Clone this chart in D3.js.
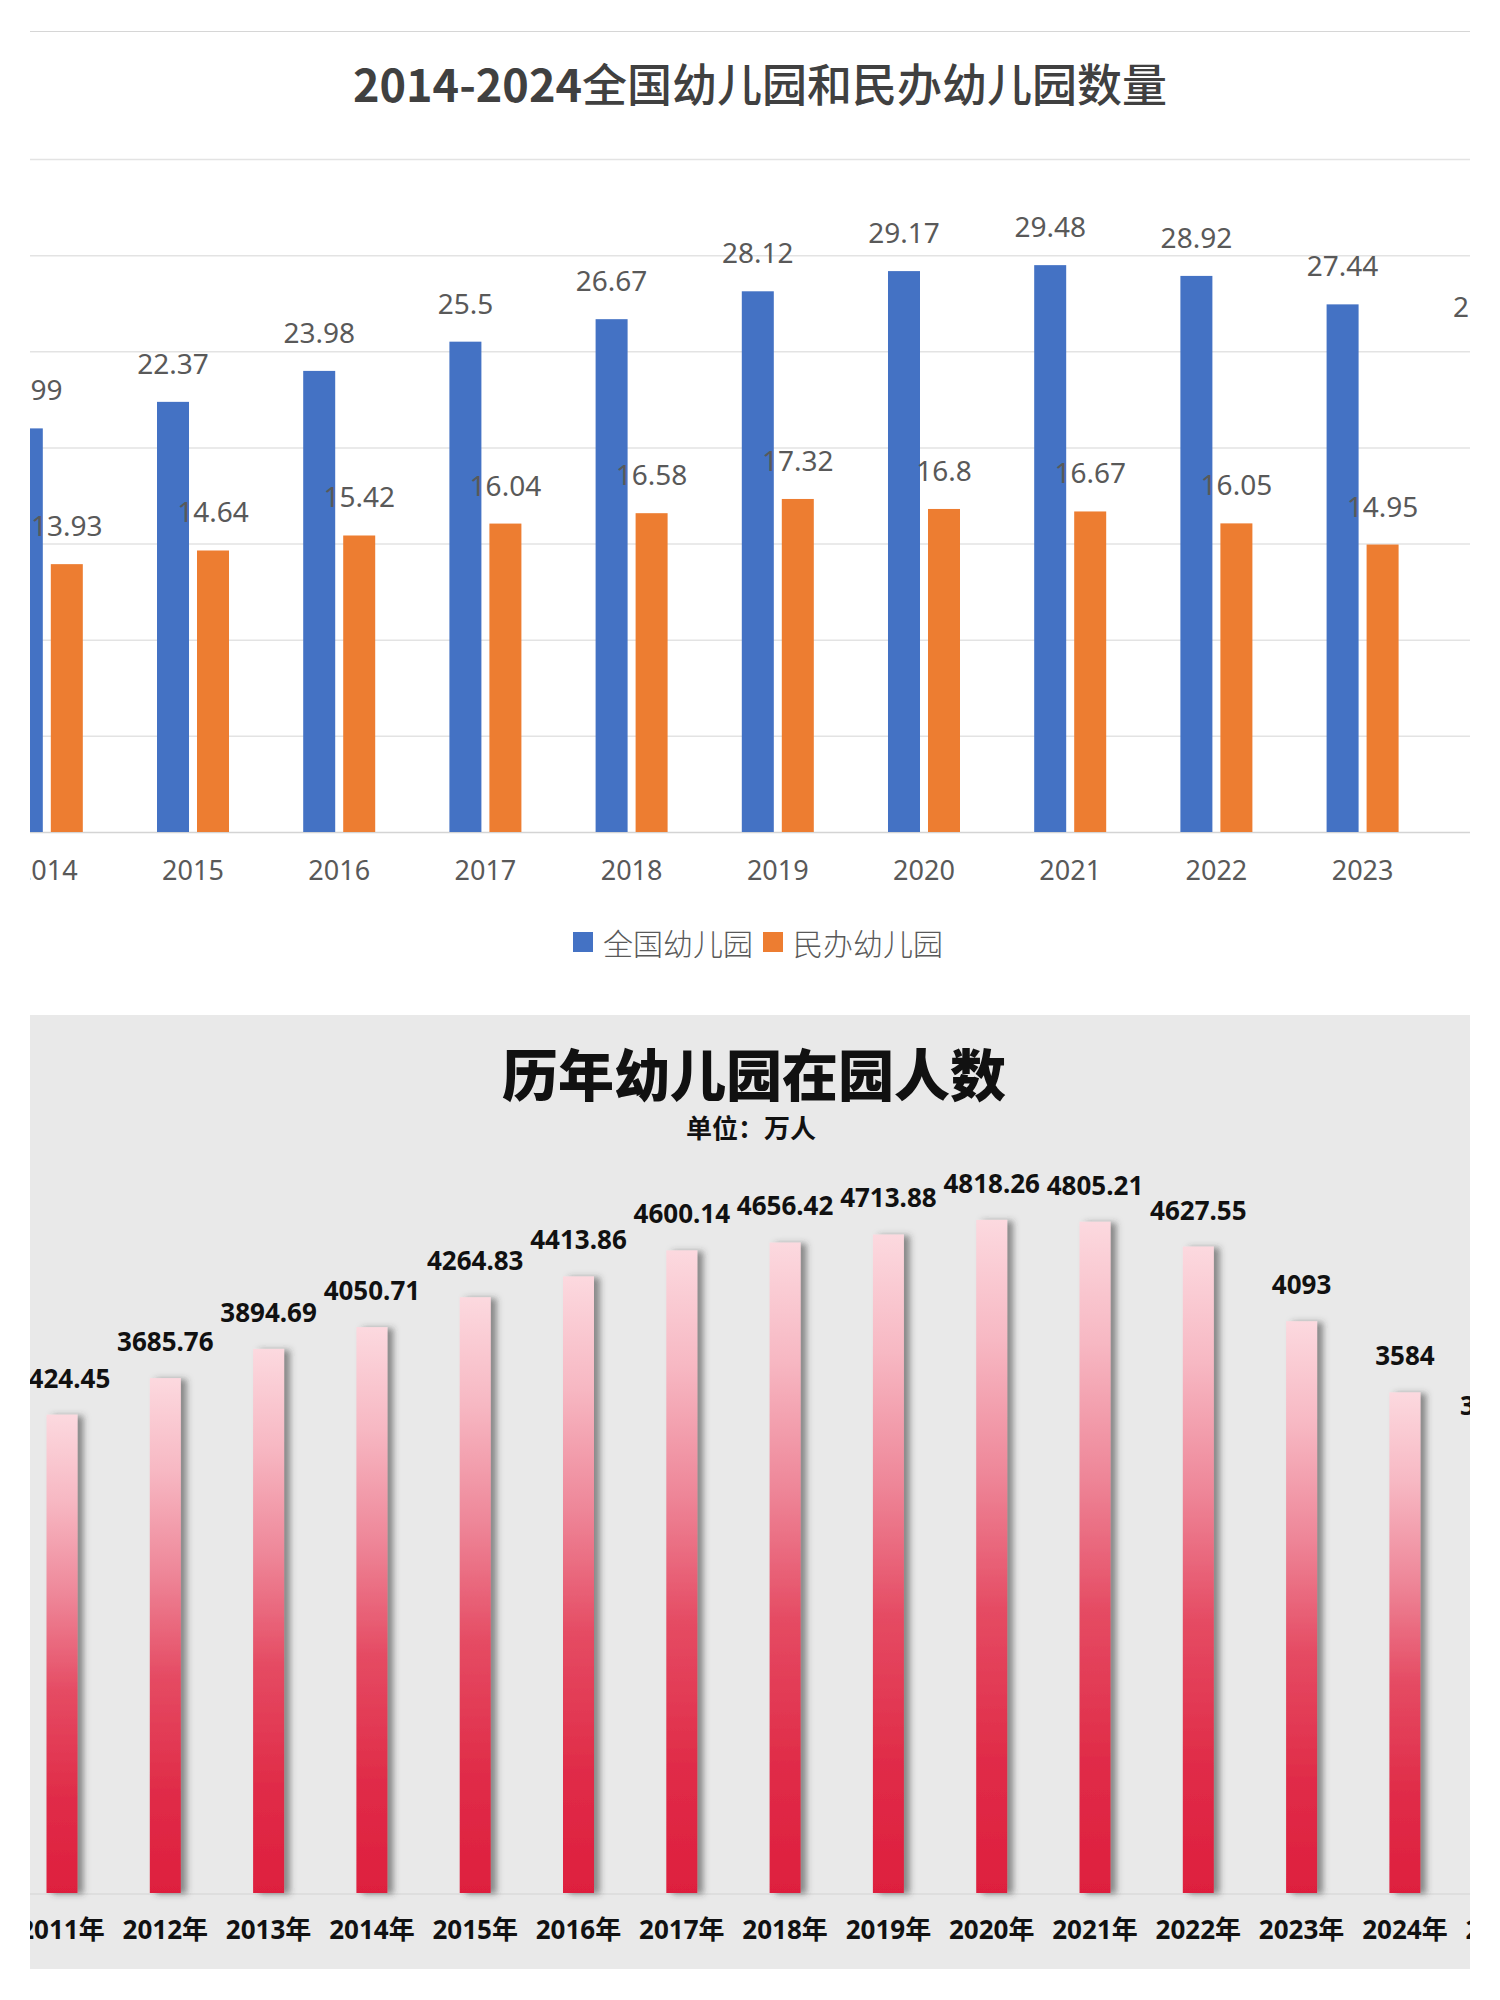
<!DOCTYPE html>
<html>
<head>
<meta charset="utf-8">
<script src="https://cdn.jsdelivr.net/npm/d3@7"></script>
<style>
  body { margin: 0; background: #fff; }
  text { font-family: "Noto Sans", "Noto Sans CJK SC", sans-serif; }
</style>
</head>
<body>
<script>
'use strict';

// chart 1: kindergartens (万所)
var kgYears = ['2014', '2015', '2016', '2017', '2018', '2019', '2020', '2021', '2022', '2023', '2024'];
var kgTotal = [20.99, 22.37, 23.98, 25.5, 26.67, 28.12, 29.17, 29.48, 28.92, 27.44, 25.34];
var kgPrivate = [13.93, 14.64, 15.42, 16.04, 16.58, 17.32, 16.8, 16.67, 16.05, 14.95, 13.4];
var kgSeries = ['全国幼儿园', '民办幼儿园'];
var kgGrid = [0, 5, 10, 15, 20, 25, 30, 35];

// chart 2: children enrolled (万人)
var enrolYears = ['2011年', '2012年', '2013年', '2014年', '2015年', '2016年', '2017年', '2018年',
                  '2019年', '2020年', '2021年', '2022年', '2023年', '2024年', '2025年'];
var enrolValues = [3424.45, 3685.76, 3894.69, 4050.71, 4264.83, 4413.86, 4600.14, 4656.42,
                   4713.88, 4818.26, 4805.21, 4627.55, 4093, 3584, 3228.42];

var seriesColor = {'全国幼儿园': '#4472c4', '民办幼儿园': '#ed7d31'};

var svg = d3.select('body').append('svg')
    .attr('width', 1500)
    .attr('height', 2000);

var defs = svg.append('defs');

// both pictures are cropped at the panel edges
defs.append('clipPath').attr('id', 'clipTop')
    .append('rect').attr('x', 30).attr('y', 31).attr('width', 1440).attr('height', 984);
defs.append('clipPath').attr('id', 'clipBottom')
    .append('rect').attr('x', 30).attr('y', 1015).attr('width', 1440).attr('height', 954);

var grad = defs.append('linearGradient').attr('id', 'pinkRed')
    .attr('x1', 0).attr('y1', 0).attr('x2', 0).attr('y2', 1);
[[0, '#fcd9df'], [0.18, '#f7b8c3'], [0.38, '#ee8698'], [0.58, '#e54b63'], [0.8, '#e02c48'], [1, '#de1f3e']]
    .forEach(function (s) {
        grad.append('stop').attr('offset', s[0]).attr('stop-color', s[1]);
    });

var shadow = defs.append('filter').attr('id', 'barShadow')
    .attr('x', '-60%').attr('y', '-10%').attr('width', '220%').attr('height', '120%');
shadow.append('feDropShadow')
    .attr('dx', 6).attr('dy', 1).attr('stdDeviation', 3)
    .attr('flood-color', '#3a3a3a').attr('flood-opacity', 0.55);

// ---------------- top chart ----------------
var chartA = svg.append('g').attr('clip-path', 'url(#clipTop)');

var x0 = d3.scaleBand()
    .domain(kgYears)
    .range([-26.3, 1581.9])
    .paddingInner(0.5075)
    .paddingOuter(0.2538);

var x1 = d3.scaleBand()
    .domain(kgSeries)
    .range([0, x0.bandwidth()])
    .paddingInner(0.2);

var y = d3.scaleLinear().domain([0, 35]).range([832, 159]);

chartA.append('line')
    .attr('x1', 30).attr('x2', 1470).attr('y1', 31).attr('y2', 31)
    .attr('stroke', '#d6d6d6').attr('stroke-width', 2);

chartA.append('text')
    .attr('x', 760).attr('y', 82)
    .attr('text-anchor', 'middle')
    .attr('dominant-baseline', 'central')
    .style('font-family', '"Noto Sans CJK SC", sans-serif')
    .style('font-size', '45px')
    .style('fill', '#404040')
    .call(function (t) {
        t.append('tspan').style('font-weight', 700).text('2014-2024');
        t.append('tspan').style('font-weight', 500).text('全国幼儿园和民办幼儿园数量');
    });

var grid = chartA.append('g')
    .attr('transform', 'translate(30,0)')
    .call(d3.axisLeft(y).tickValues(kgGrid).tickSize(-1440).tickFormat(''));
grid.select('.domain').remove();
grid.selectAll('line').attr('stroke', '#e3e3e3').attr('stroke-width', 1.5);
grid.selectAll('.tick').filter(function (d) { return d === 0; }).select('line')
    .attr('stroke', '#d4d4d4');

var rows = kgYears.map(function (yr, i) {
    return {year: yr, values: [
        {key: kgSeries[0], value: kgTotal[i]},
        {key: kgSeries[1], value: kgPrivate[i]}
    ]};
});

var groups = chartA.selectAll('g.year')
    .data(rows)
    .enter().append('g')
    .attr('class', 'year')
    .attr('transform', function (d) { return 'translate(' + x0(d.year) + ',0)'; });

groups.selectAll('rect')
    .data(function (d) { return d.values; })
    .enter().append('rect')
    .attr('x', function (d) { return x1(d.key); })
    .attr('y', function (d) { return y(d.value); })
    .attr('width', x1.bandwidth())
    .attr('height', function (d) { return y(0) - y(d.value); })
    .attr('fill', function (d) { return seriesColor[d.key]; });

groups.selectAll('text.val')
    .data(function (d) { return d.values; })
    .enter().append('text')
    .attr('class', 'val')
    .attr('x', function (d) { return x1(d.key) + x1.bandwidth() / 2; })
    .attr('y', function (d) { return y(d.value) - 28; })
    .attr('text-anchor', 'middle')
    .style('font-size', '28px')
    .style('fill', '#595959')
    .text(function (d) { return d.value; });

var xAxisTop = chartA.append('g')
    .attr('transform', 'translate(0,832)')
    .call(d3.axisBottom(x0).tickSize(0).tickPadding(29));
xAxisTop.select('.domain').remove();
xAxisTop.selectAll('text')
    .style('font-family', '"Noto Sans", sans-serif')
    .style('font-size', '27px')
    .style('fill', '#595959');

// legend
var legend = svg.append('g').attr('transform', 'translate(573,942)');
var legendItems = legend.selectAll('g')
    .data(kgSeries)
    .enter().append('g')
    .attr('transform', function (d, i) { return 'translate(' + (i * 190) + ',0)'; });
legendItems.append('rect')
    .attr('x', 0).attr('y', -10).attr('width', 20).attr('height', 20)
    .attr('fill', function (d) { return seriesColor[d]; });
legendItems.append('text')
    .attr('x', 30).attr('y', 0)
    .attr('dominant-baseline', 'central')
    .style('font-family', '"Noto Sans CJK SC", sans-serif')
    .style('font-weight', 300)
    .style('font-size', '30px')
    .style('fill', '#595959')
    .text(function (d) { return d; });

// ---------------- bottom chart ----------------
var chartB = svg.append('g').attr('clip-path', 'url(#clipBottom)');

chartB.append('rect')
    .attr('x', 30).attr('y', 1015).attr('width', 1440).attr('height', 954)
    .attr('fill', '#e9e9e9');

var xb = d3.scaleBand()
    .domain(enrolYears)
    .range([10.35, 1559.85])
    .paddingInner(0.7)
    .paddingOuter(0.35);

var yb = d3.scaleLinear().domain([0, 5000]).range([1893, 1194.5]);

chartB.append('text')
    .attr('x', 754).attr('y', 1071)
    .attr('text-anchor', 'middle')
    .attr('dominant-baseline', 'central')
    .style('font-family', '"Noto Sans CJK SC", sans-serif')
    .style('font-weight', 900)
    .style('font-size', '56px')
    .style('fill', '#111')
    .text('历年幼儿园在园人数');

chartB.append('text')
    .attr('x', 751).attr('y', 1126)
    .attr('text-anchor', 'middle')
    .attr('dominant-baseline', 'central')
    .style('font-family', '"Noto Sans CJK SC", sans-serif')
    .style('font-weight', 700)
    .style('font-size', '26px')
    .style('fill', '#111')
    .text('单位：万人');

chartB.append('line')
    .attr('x1', 30).attr('x2', 1470).attr('y1', yb(0) + 1).attr('y2', yb(0) + 1)
    .attr('stroke', '#dedede').attr('stroke-width', 2);

chartB.selectAll('rect.bar')
    .data(enrolValues)
    .enter().append('rect')
    .attr('class', 'bar')
    .attr('x', function (d, i) { return xb(enrolYears[i]); })
    .attr('y', function (d) { return yb(d); })
    .attr('width', xb.bandwidth())
    .attr('height', function (d) { return yb(0) - yb(d); })
    .attr('fill', 'url(#pinkRed)')
    .attr('filter', 'url(#barShadow)');

chartB.selectAll('text.val')
    .data(enrolValues)
    .enter().append('text')
    .attr('class', 'val')
    .attr('x', function (d, i) { return xb(enrolYears[i]) + xb.bandwidth() / 2; })
    .attr('y', function (d) { return yb(d) - 27; })
    .attr('text-anchor', 'middle')
    .style('font-weight', 700)
    .style('font-size', '26px')
    .style('fill', '#111')
    .text(function (d) { return d; });

var xAxisBottom = chartB.append('g')
    .attr('transform', 'translate(0,' + yb(0) + ')')
    .call(d3.axisBottom(xb).tickSize(0).tickPadding(28));
xAxisBottom.select('.domain').remove();
xAxisBottom.selectAll('text')
    .style('font-family', '"Noto Sans", "Noto Sans CJK SC", sans-serif')
    .style('font-weight', 700)
    .style('font-size', '26px')
    .style('fill', '#111');
</script>
</body>
</html>
